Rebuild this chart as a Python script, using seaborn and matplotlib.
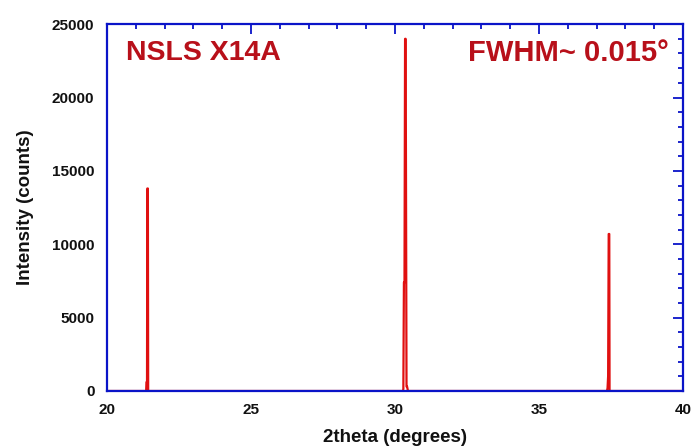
import matplotlib
matplotlib.use("Agg")
import matplotlib.pyplot as plt
import seaborn as sns
import pandas as pd
from matplotlib.ticker import MultipleLocator

# Data
two_theta = [20.00, 21.30, 21.36, 21.37, 21.39, 21.40, 21.42, 21.43, 21.50,
             30.20, 30.28, 30.29, 30.31, 30.33, 30.35, 30.37, 30.40, 30.42, 30.45, 30.50,
             37.30, 37.36, 37.38, 37.40, 37.42, 37.44, 37.45, 37.55, 40.00]
intensity = [0, 0, 0, 600, 600, 13800, 13800, 0, 0,
             0, 0, 150, 7400, 7400, 24000, 24000, 300, 300, 0, 0,
             0, 0, 200, 1000, 10700, 10700, 0, 0, 0]

x_ticks = [20, 25, 30, 35, 40]
y_ticks = [0, 5000, 10000, 15000, 20000, 25000]
label_left = "NSLS X14A"
label_right = "FWHM~ 0.015°"

df = pd.DataFrame({"2theta": two_theta, "Intensity": intensity})

sns.set_theme(style="white")
plt.rcParams['font.family'] = ['Liberation Sans', 'DejaVu Sans']

fig = plt.figure(figsize=(6.92, 4.47), dpi=100)
ax = fig.add_axes([0.1546, 0.1253, 0.8324, 0.8207])

sns.lineplot(data=df, x="2theta", y="Intensity", ax=ax, color="#e01010",
             linewidth=1.6, estimator=None, sort=False, zorder=1)

blue = "#0a14c8"
ax.set_xlim(20, 40)
ax.set_ylim(0, 25000)
ax.set_xticks(x_ticks)
ax.set_yticks(y_ticks)
ax.xaxis.set_minor_locator(MultipleLocator(1))
ax.yaxis.set_minor_locator(MultipleLocator(1000))
for s in ax.spines.values():
    s.set_color(blue)
    s.set_linewidth(1.6)
    s.set_zorder(3)
ax.tick_params(which="both", direction="in", top=True, right=True, color=blue, width=1.3,
               labelsize=11, labelcolor="#111111")
ax.tick_params(which="major", length=7)
ax.tick_params(which="minor", length=3.5)
ax.tick_params(axis="x", which="major", pad=9)
ax.tick_params(axis="y", which="major", pad=9)
for lab in ax.get_xticklabels() + ax.get_yticklabels():
    lab.set_fontweight("bold")

ax.set_xlabel("2theta (degrees)", fontsize=13.5, fontweight="bold", color="#111111", labelpad=8)
ax.set_ylabel("Intensity (counts)", fontsize=13.5, fontweight="bold", color="#111111", labelpad=13)

ax.text(0.033, 0.92, label_left, transform=ax.transAxes, fontsize=20.5, fontweight="bold",
        color="#b8101a", ha="left", va="center")
ax.text(0.975, 0.92, label_right, transform=ax.transAxes, fontsize=21, fontweight="bold",
        color="#b8101a", ha="right", va="center")

fig.savefig("out.png", dpi=100)
